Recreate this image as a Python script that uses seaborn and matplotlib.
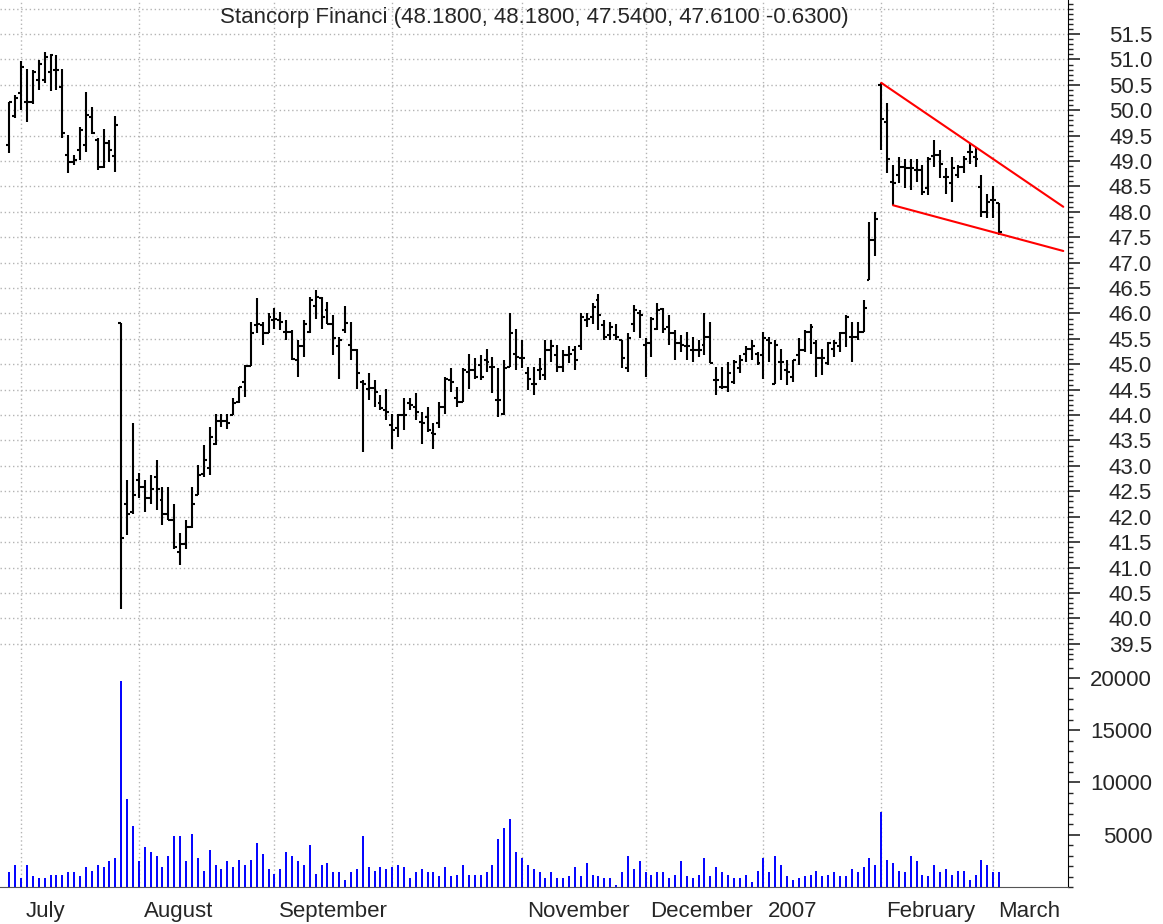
import numpy as np
import pandas as pd
import matplotlib
matplotlib.use("Agg")
import matplotlib.pyplot as plt
import matplotlib.ticker as mticker
import seaborn as sns

# daily OHLC, one entry per trading day starting 2006-06-29
opens = [49.31, 49.89, 50.33, 50.17, 50.17, 50.59, 50.59, 50.76, 50.80, 50.46,
         49.12, 48.99, 49.22, 49.31, 49.87, 49.41, 48.89, 49.35, 49.09, 45.82,
         42.25, 42.10, 42.72, 42.58, 42.36, 42.79, 42.33, 42.06, 41.93, 41.31,
         41.47, 41.80, 42.42, 42.85, 42.95, 43.44, 43.89, 43.89, 44.00, 44.25,
         44.66, 44.96, 45.77, 45.77, 45.61, 45.88, 45.87, 45.64, 45.64, 45.08,
         45.35, 45.64, 46.15, 46.30, 46.07, 45.80, 45.35, 45.67, 45.38, 45.28,
         44.65, 44.52, 44.54, 44.23, 44.10, 43.80, 43.74, 44.00, 44.23, 44.16,
         43.87, 43.97, 43.64, 43.84, 44.16, 44.69, 44.33, 44.26, 44.85, 44.89,
         44.98, 45.08, 44.95, 44.30, 44.03, 44.95, 45.20, 45.12, 44.82, 44.62,
         44.88, 44.79, 45.28, 45.18, 44.95, 45.18, 45.28, 45.35, 45.87, 45.94,
         46.26, 45.77, 45.57, 45.57, 45.48, 44.92, 45.80, 46.00, 45.38, 45.41,
         45.70, 46.08, 45.74, 45.61, 45.41, 45.35, 45.28, 45.28, 45.38, 45.54,
         44.69, 44.56, 44.56, 44.66, 44.92, 45.21, 45.31, 45.21, 45.18, 45.48,
         44.62, 45.05, 44.89, 44.75, 45.18, 45.28, 45.64, 45.41, 45.12, 45.02,
         45.31, 45.35, 45.61, 45.54, 45.54, 45.64, 46.66, 47.44, 50.50, 49.77,
         48.59, 48.72, 48.89, 48.86, 48.82, 48.82, 48.46, 49.10, 49.12, 48.69,
         48.56, 48.72, 48.89, 49.18, 49.08, 48.49, 48.00, 48.23, 48.18]
highs = [50.17, 50.30, 50.96, 50.82, 50.79, 50.99, 51.15, 51.11, 51.09, 50.82,
         49.51, 49.12, 49.68, 50.36, 50.07, 49.45, 49.64, 49.41, 49.89, 45.82,
         42.72, 43.85, 42.86, 42.72, 42.82, 43.11, 42.58, 42.58, 42.25, 41.67,
         41.93, 42.58, 43.01, 43.41, 43.77, 44.03, 44.03, 44.03, 44.33, 44.56,
         44.98, 45.84, 46.30, 45.84, 46.00, 46.10, 46.03, 45.87, 45.67, 45.48,
         45.87, 46.33, 46.46, 46.33, 46.23, 45.97, 45.54, 46.15, 45.84, 45.31,
         44.69, 44.82, 44.69, 44.40, 44.52, 44.03, 44.03, 44.33, 44.33, 44.43,
         44.06, 44.16, 43.84, 44.26, 44.75, 44.92, 44.56, 44.92, 45.20, 45.12,
         45.18, 45.31, 45.15, 44.92, 45.08, 46.00, 45.70, 45.48, 44.95, 44.95,
         45.12, 45.48, 45.48, 45.38, 45.28, 45.35, 45.35, 46.00, 46.00, 46.20,
         46.39, 45.87, 45.84, 45.80, 45.48, 45.61, 46.17, 46.07, 45.51, 45.94,
         46.20, 46.10, 45.97, 45.67, 45.57, 45.64, 45.54, 45.48, 46.00, 45.84,
         44.95, 44.95, 45.05, 45.08, 45.18, 45.35, 45.48, 45.25, 45.64, 45.54,
         45.48, 45.31, 45.08, 45.08, 45.51, 45.67, 45.80, 45.48, 45.31, 45.44,
         45.48, 45.64, 45.97, 45.84, 45.84, 46.26, 47.81, 48.00, 50.54, 50.15,
         48.92, 49.08, 49.05, 49.05, 49.05, 48.92, 49.08, 49.41, 49.22, 48.86,
         49.08, 48.92, 49.10, 49.35, 49.28, 48.72, 48.36, 48.51, 48.18]
lows = [49.15, 49.84, 50.00, 49.77, 50.13, 50.40, 50.53, 50.37, 50.40, 49.45,
        48.76, 48.92, 49.02, 49.18, 49.54, 48.82, 48.86, 48.99, 48.79, 40.19,
        41.63, 42.05, 42.36, 42.10, 42.25, 42.13, 41.83, 41.93, 41.37, 41.05,
        41.37, 41.77, 42.42, 42.79, 42.82, 43.41, 43.77, 43.72, 44.00, 44.23,
        44.35, 44.96, 45.61, 45.38, 45.61, 45.70, 45.67, 45.48, 45.08, 44.75,
        45.15, 45.61, 45.90, 45.70, 45.80, 45.18, 44.72, 45.61, 45.08, 44.52,
        43.28, 44.30, 44.16, 44.10, 43.90, 43.34, 43.57, 43.70, 44.10, 43.90,
        43.44, 43.67, 43.34, 43.74, 44.03, 44.46, 44.16, 44.26, 44.51, 44.72,
        44.69, 44.85, 44.43, 43.97, 44.00, 44.95, 44.89, 44.92, 44.49, 44.39,
        44.69, 44.69, 45.05, 44.85, 44.85, 45.02, 44.88, 45.28, 45.74, 45.80,
        45.67, 45.48, 45.48, 45.48, 44.92, 44.85, 45.64, 45.51, 44.75, 45.15,
        45.67, 45.61, 45.38, 45.08, 45.25, 45.08, 45.05, 45.15, 45.18, 45.02,
        44.39, 44.52, 44.46, 44.62, 44.82, 45.05, 45.08, 44.98, 44.72, 45.05,
        44.62, 44.69, 44.59, 44.66, 44.98, 45.25, 45.21, 44.75, 44.79, 44.98,
        45.15, 45.25, 45.34, 45.05, 45.48, 45.64, 46.66, 47.13, 49.22, 48.76,
        48.13, 48.56, 48.46, 48.43, 48.59, 48.33, 48.33, 48.89, 48.66, 48.36,
        48.20, 48.66, 48.76, 48.95, 48.89, 47.90, 47.87, 47.87, 47.54]
closes = [50.17, 50.25, 50.86, 50.17, 50.76, 50.91, 51.05, 51.09, 50.80, 49.56,
          48.99, 49.02, 49.61, 49.91, 49.56, 48.89, 49.35, 49.22, 49.71, 41.59,
          42.06, 42.42, 42.58, 42.36, 42.54, 42.54, 42.06, 41.93, 41.41, 41.47,
          41.80, 42.25, 42.82, 43.11, 43.57, 43.89, 43.89, 43.84, 44.23, 44.56,
          44.96, 45.61, 45.80, 45.61, 45.94, 45.90, 45.84, 45.64, 45.10, 45.35,
          45.80, 46.26, 46.33, 45.94, 45.80, 45.51, 45.48, 45.82, 45.28, 44.83,
          44.62, 44.54, 44.45, 44.13, 44.06, 43.70, 44.00, 44.00, 44.20, 44.06,
          43.84, 43.70, 43.62, 44.16, 44.72, 44.66, 44.26, 44.89, 44.89, 44.75,
          44.75, 45.05, 44.94, 44.30, 44.92, 45.61, 45.15, 45.12, 44.72, 44.62,
          44.90, 45.28, 45.35, 44.95, 45.18, 45.20, 45.08, 45.94, 45.90, 46.13,
          45.97, 45.54, 45.74, 45.54, 45.12, 45.51, 46.07, 45.97, 45.41, 45.90,
          46.07, 45.70, 45.61, 45.41, 45.38, 45.35, 45.28, 45.28, 45.54, 45.02,
          44.69, 44.56, 44.82, 45.05, 45.08, 45.31, 45.35, 45.02, 45.51, 45.41,
          45.38, 45.05, 44.85, 45.08, 45.28, 45.64, 45.74, 45.12, 45.12, 45.41,
          45.41, 45.61, 45.94, 45.54, 45.64, 46.10, 47.44, 47.85, 49.82, 49.05,
          48.57, 48.89, 48.86, 48.86, 48.83, 48.40, 49.05, 49.12, 48.95, 48.69,
          48.86, 48.89, 49.05, 49.18, 49.05, 48.00, 48.20, 48.24, 47.61]
volumes = [1400, 2070, 860, 2070, 1020, 830, 830, 1180, 1180, 1180,
           1400, 1400, 1020, 1900, 1560, 2070, 1900, 2450, 2800, 19700,
           8430, 5790, 2450, 3850, 3340, 2960, 1900, 2960, 4900, 4900,
           2450, 5090, 2800, 1560, 3500, 2070, 1750, 2450, 1900, 2600,
           2070, 2600, 4200, 3150, 1750, 1200, 1750, 3340, 2960, 2450,
           2070, 4040, 1200, 2070, 2260, 1400, 1400, 670, 1400, 1750,
           4900, 1900, 1560, 1900, 1750, 1900, 2070, 1900, 860, 1400,
           1750, 1400, 1400, 1020, 1900, 1020, 1180, 2070, 1180, 1180,
           1180, 1400, 2070, 4550, 5600, 6490, 3340, 2800, 2070, 1750,
           1400, 860, 1400, 860, 860, 1020, 1900, 1020, 2260, 1180,
           1020, 860, 860, 160, 1400, 2960, 1750, 2450, 1400, 1180,
           1400, 1400, 860, 1180, 2450, 1020, 860, 1180, 2800, 1020,
           1900, 1400, 1180, 860, 860, 1180, 510, 1560, 2800, 1400,
           2960, 2070, 1020, 670, 860, 1020, 1180, 1560, 1020, 1180,
           1400, 1020, 1020, 1750, 1400, 1900, 2800, 2070, 7190, 2600,
           2260, 1560, 1400, 2960, 2450, 1180, 1020, 2070, 1400, 1750,
           1180, 1560, 1560, 670, 1180, 2600, 2070, 1400, 1400]

title = "Stancorp Financi (48.1800, 48.1800, 47.5400, 47.6100 -0.6300)"
month_names = {"2006-07": "July", "2006-08": "August", "2006-09": "September",
               "2006-10": "", "2006-11": "November", "2006-12": "December",
               "2007-01": "2007", "2007-02": "February", "2007-03": "March"}
holidays = ["2006-07-04", "2006-09-04", "2006-11-23", "2006-12-25",
            "2007-01-01", "2007-01-02", "2007-01-15", "2007-02-19"]
# trend lines drawn by hand on the chart (bar index, price)
upper_x, upper_y = [148, 178.9], [50.54, 48.10]
lower_x, lower_y = [150, 178.9], [48.13, 47.23]

sns.set_style("white")
plt.rcParams["font.family"] = ["Liberation Sans", "DejaVu Sans"]
plt.rcParams["font.size"] = 16

# trading calendar
days = pd.bdate_range("2006-06-29", "2007-03-23")
days = days[~days.isin(pd.to_datetime(holidays))]
cal = pd.DataFrame({"date": days, "i": np.arange(len(days))})
cal["month"] = cal.date.dt.strftime("%Y-%m")
month_start = cal.groupby("month").i.first()
month_start = month_start[month_start.index.isin(list(month_names))]
week_start = cal.groupby(cal.date.dt.to_period("W")).i.first().values
week_start = week_start[(week_start > 0) & (week_start < 180)]

idx = np.arange(len(closes))
W, H = 1163, 924
fig = plt.figure(figsize=(W / 100, H / 100), dpi=100)
ax = fig.add_axes([0, 1 - 662 / H, 1068 / W, 662 / H])
axv = fig.add_axes([0, 1 - 887 / H, 1068 / W, 225 / H])

grid_kw = dict(color="#b4b4b4", linestyle=(0, (1, 2)), linewidth=1)
xlim = (-1.58, 179.7)

# ---- price panel
ax.vlines(idx, lows, highs, color="black", lw=1.5)
ax.hlines(opens, idx - 0.5, idx, color="black", lw=1.5)
ax.hlines(closes, idx, idx + 0.5, color="black", lw=1.5)
sns.lineplot(x=upper_x, y=upper_y, ax=ax, color="red", lw=1.5, legend=False)
sns.lineplot(x=lower_x, y=lower_y, ax=ax, color="red", lw=1.5, legend=False)

ax.set_xlim(*xlim)
ax.set_ylim(39.14, 52.17)
ax.yaxis.tick_right()
ax.set_yticks(np.arange(39.5, 51.51, 0.5))
ax.set_yticks(np.arange(39.2, 52.15, 0.1), minor=True)
ax.yaxis.set_major_formatter(mticker.FormatStrFormatter("%.1f"))
ax.set_xticks(month_start.values)
ax.set_xticklabels([])
ax.tick_params(axis="x", length=0)
ax.tick_params(axis="y", which="major", length=8.6, width=1.2, pad=52)
ax.tick_params(axis="y", which="minor", length=3.6, width=1.0)
plt.setp(ax.get_yticklabels(), ha="right")
ax.grid(True, which="major", **grid_kw)
ax.axhline(52.0, **grid_kw, zorder=0)
ax.set_axisbelow(True)
for s in ["left", "top", "bottom"]:
    ax.spines[s].set_visible(False)
ax.spines["right"].set_color("black")
ax.set_xlabel("")
ax.set_ylabel("")
ax.text(0.5, 1 - 18 / 662, title, transform=ax.transAxes,
        ha="center", va="center", fontsize=16)

# ---- volume panel
axv.vlines(idx, 0, volumes, color="#0000ff", lw=1.4)
axv.set_xlim(*xlim)
axv.set_ylim(0, 21530)
axv.yaxis.tick_right()
axv.set_yticks([5000, 10000, 15000, 20000])
axv.set_yticks(np.arange(0, 21001, 1000), minor=True)
axv.yaxis.set_major_formatter(mticker.FormatStrFormatter("%d"))
axv.tick_params(axis="y", which="major", length=8.6, width=1.2, pad=52)
axv.tick_params(axis="y", which="minor", length=3.6, width=1.0)
plt.setp(axv.get_yticklabels(), ha="right")
axv.set_xticks(month_start.values)
axv.set_xticks(week_start, minor=True)
axv.set_xticklabels([])
axv.tick_params(axis="x", which="major", length=27, width=1.5, color="black")
axv.tick_params(axis="x", which="minor", length=7, width=1.2, color="black")
axv.grid(True, which="major", axis="x", **grid_kw)
axv.set_axisbelow(True)
for s in ["left", "top"]:
    axv.spines[s].set_visible(False)
axv.spines["right"].set_color("black")
axv.spines["bottom"].set_color("#555555")

for key, pos in month_start.items():
    axv.annotate(month_names[key], xy=(pos, 0), xycoords=("data", "axes fraction"),
                 xytext=(3.5, -21.5), textcoords="offset points",
                 ha="left", va="baseline", fontsize=16)

fig.savefig("out.png", dpi=100)
